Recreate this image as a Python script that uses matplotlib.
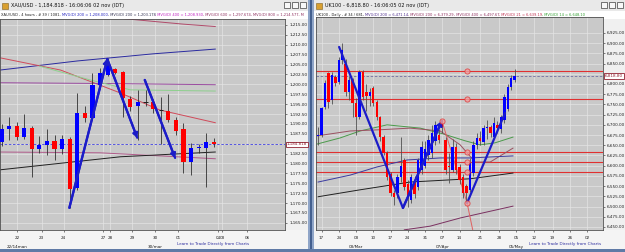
import matplotlib
matplotlib.use("Agg")
import matplotlib.pyplot as plt
from matplotlib.patches import Rectangle
from matplotlib.ticker import FuncFormatter, FixedLocator

W, H = 625, 252

# ---------------- XAU/USD, 4 hours ----------------
xau_open = [1185.5, 1188.7, 1189.5, 1186.7, 1189.0, 1183.7, 1184.7, 1185.7, 1183.7, 1186.2,
            1173.8, 1192.8, 1191.5, 1199.8, 1202.4, 1203.9, 1203.1, 1196.3, 1194.5, 1195.6,
            1195.6, 1193.6, 1193.3, 1191.0, 1188.7, 1180.4, 1184.0, 1183.9, 1185.5]
xau_high = [1190.0, 1191.8, 1190.5, 1192.5, 1189.4, 1187.0, 1188.7, 1187.2, 1187.2, 1186.6,
            1197.8, 1194.5, 1202.9, 1204.2, 1206.7, 1204.2, 1203.4, 1197.0, 1198.6, 1198.6,
            1196.3, 1196.8, 1197.5, 1191.8, 1190.3, 1185.2, 1185.0, 1187.7, 1186.5]
xau_low = [1184.5, 1185.9, 1185.9, 1186.2, 1176.6, 1182.7, 1182.2, 1180.9, 1182.5, 1168.8,
           1173.4, 1190.5, 1191.0, 1198.8, 1202.0, 1202.5, 1191.8, 1193.3, 1186.0, 1194.5,
           1192.8, 1185.0, 1190.5, 1187.2, 1177.6, 1177.1, 1182.7, 1174.1, 1184.2]
xau_close = [1188.7, 1189.5, 1186.7, 1189.0, 1183.7, 1184.7, 1185.7, 1183.7, 1186.2, 1173.6,
             1192.8, 1191.5, 1199.8, 1202.9, 1204.9, 1202.9, 1196.6, 1194.3, 1195.6, 1195.7,
             1193.8, 1193.5, 1191.0, 1188.2, 1180.4, 1183.9, 1184.2, 1185.5, 1184.8]
xau_last = 1184.818

# moving averages (bar index, price)
xau_ma_blue = ([-0.2, 10, 20, 28.2], [1203.6, 1205.9, 1207.7, 1208.9])
xau_ma_top = ([10, 15, 20, 24, 28.2], [1218.0, 1216.8, 1215.9, 1215.2, 1214.6])
xau_ma_red = ([-0.2, 7.8, 15.7, 20.9, 28.2], [1206.7, 1203.6, 1197.8, 1193.5, 1190.3])
xau_ma_purple = ([-0.2, 14, 28.2], [1200.4, 1200.2, 1199.9])
xau_ma_green = ([5, 11.7, 17.0, 28.2], [1204.6, 1201.1, 1198.6, 1198.3])
xau_ma_pink = ([-0.2, 13, 28.2], [1182.9, 1182.7, 1181.2])
xau_ma_black = ([-0.2, 15.7, 28.2], [1178.4, 1181.7, 1182.9])

# hand drawn trend lines
xau_trend_a = ([8.95, 13.95, 17.9], [1168.8, 1206.4, 1186.5])
xau_trend_b = ([18.9, 22.9], [1201.1, 1181.4])

xau_xticks = [2.1, 5.3, 8.2, 13.4, 14.3, 17.2, 20.3, 23.3, 28.6, 29.1, 32.4]
xau_xlabels = ["22", "23", "24", "27", "28", "29", "30", "01", "04", "03", "06"]
xau_months = [(2.1, "22/14man"), (20.3, "30/mar")]
xau_yrange = (1165.0, 1215.0, 2.5)

# ---------------- UK100, Daily ----------------
uk_open = [6673, 6676, 6743, 6827, 6761, 6817, 6805, 6859, 6850, 6780,
           6810, 6754, 6720, 6829, 6780, 6770, 6790, 6756, 6719, 6670,
           6631, 6580, 6533, 6533, 6572, 6614, 6555, 6516, 6560, 6548,
           6590, 6600, 6625, 6630, 6660, 6675, 6710, 6663, 6600, 6590,
           6646, 6597, 6572, 6550, 6540, 6582, 6650, 6668, 6658, 6692,
           6695, 6670, 6700, 6690, 6712, 6740, 6793, 6810]
uk_high = [6695, 6744, 6810, 6830, 6830, 6822, 6865, 6900, 6862, 6820,
           6815, 6765, 6835, 6835, 6800, 6790, 6795, 6760, 6722, 6675,
           6636, 6585, 6540, 6580, 6670, 6620, 6565, 6580, 6575, 6620,
           6660, 6660, 6675, 6700, 6710, 6690, 6712, 6670, 6631, 6665,
           6655, 6605, 6580, 6555, 6620, 6660, 6680, 6685, 6700, 6712,
           6700, 6720, 6710, 6725, 6775, 6800, 6822, 6836]
uk_low = [6651, 6670, 6740, 6742, 6750, 6795, 6800, 6850, 6770, 6760,
          6720, 6676, 6715, 6760, 6735, 6745, 6745, 6712, 6660, 6625,
          6565, 6525, 6505, 6520, 6560, 6540, 6500, 6508, 6520, 6540,
          6580, 6595, 6615, 6620, 6650, 6655, 6680, 6580, 6558, 6585,
          6580, 6555, 6520, 6509, 6535, 6575, 6640, 6650, 6650, 6665,
          6670, 6665, 6680, 6680, 6705, 6735, 6785, 6805]
uk_close = [6676, 6741, 6803, 6756, 6822, 6803, 6859, 6883, 6780, 6810,
            6754, 6719, 6829, 6768, 6770, 6780, 6754, 6719, 6670, 6631,
            6572, 6533, 6523, 6572, 6600, 6548, 6520, 6572, 6530, 6614,
            6646, 6640, 6663, 6680, 6700, 6663, 6695, 6590, 6598, 6646,
            6590, 6565, 6533, 6533, 6607, 6651, 6668, 6660, 6692, 6694,
            6680, 6705, 6692, 6719, 6768, 6793, 6815, 6820]
uk_last = 6818.80

uk_ma_green = ([-0.3, 6.4, 12.2, 20.0, 29.6, 36.2, 42.6, 47.0, 51.3, 56.5],
               [6653, 6668, 6685, 6700, 6692, 6678, 6661, 6651, 6656, 6670])
uk_ma_brown = ([-0.3, 9.3, 18.0, 26.7, 35.4, 41.2, 45.5, 49.9, 56.5],
               [6673, 6685, 6688, 6692, 6685, 6651, 6609, 6609, 6643])
uk_ma_navy = ([0, 9.3, 17.1, 25.8, 35.4, 44.1, 56.5],
              [6560, 6577, 6597, 6614, 6619, 6619, 6624])
uk_ma_black = ([0, 12.2, 26.7, 44.1, 56.5], [6524, 6541, 6560, 6568, 6582])
uk_ma_low = ([25, 32.5, 41.2, 56.5], [6443, 6452, 6472, 6501])
uk_swing = ([35.9, 43.2, 44.9], [6709.5, 6508.8, 6440])

uk_levels = [6832, 6763, 6634, 6609, 6585]
uk_level_mark = 43.2
uk_points = ([35.9, 43.2], [6709.5, 6508.8])

uk_trend_a = ([6.1, 24.6, 35.9], [6890.7, 6496.5, 6709.5])
uk_trend_b = ([43.2, 54.2], [6508.8, 6729.1])

uk_xticks = [1, 6, 11, 16, 21, 26, 31, 36, 41, 47, 52.5, 57.5, 62.5, 68, 73, 78]
uk_xlabels = ["17", "24", "03", "10", "17", "24", "31", "07", "14", "21", "28",
              "05", "12", "19", "26", "02"]
uk_months = [(11, "03/Mar"), (36, "07/Apr"), (57.5, "05/May")]
uk_yrange = (6450.0, 6925.0, 25.0)

BLUE = "#0000ff"
RED = "#ff0000"
TREND = "#1c1cc8"
FS = 3.0


def px_rect(x0, y0, x1, y1):
    return [x0 / W, 1 - y1 / H, (x1 - x0) / W, (y1 - y0) / H]


fig = plt.figure(figsize=(6.25, 2.52), dpi=100)
fig.patch.set_facecolor("#f0f0f0")

# window chrome, in pixel coordinates
bg = fig.add_axes([0, 0, 1, 1], zorder=0)
bg.set_xlim(0, W)
bg.set_ylim(H, 0)
bg.axis("off")
for x0, x1 in [(0, 308), (314, 625)]:
    bg.add_patch(Rectangle((x0, 0), x1 - x0, 11, fc="#e9e9e9", ec="none"))
    bg.add_patch(Rectangle((x0, 11), x1 - x0, 8, fc="#ffffff", ec="none"))
    bg.add_patch(Rectangle((x0, 230), x1 - x0, 19, fc="#f4f4f4", ec="none"))
    bg.add_patch(Rectangle((x0 + 2, 3), 6, 6, fc="#d9a030", ec="#806020", lw=0.4))
    for k in range(3):
        bx = x1 - 24 + k * 8
        bg.add_patch(Rectangle((bx, 2), 6, 6, fc="#f8f8f8", ec="#404040", lw=0.5))
bg.add_patch(Rectangle((308, 0), 6, H, fc="#8fa5c8", ec="none"))
bg.add_patch(Rectangle((310, 0), 2, H, fc="#44608f", ec="none"))
bg.add_patch(Rectangle((0, 249), W, 3, fc="#5f7aa6", ec="none"))

bg.text(11, 6, "XAU/USD - 1,184.818 - 16:06:06 02 nov (IDT)", fontsize=3.6,
        va="center", ha="left", color="#101010")
bg.text(325, 6, "UK100 - 6,818.80 - 16:06:05 02 nov (IDT)", fontsize=3.6,
        va="center", ha="left", color="#101010")


def chain(x, y, parts, fs=2.6):
    t = bg.text(x, y, parts[0][0], color=parts[0][1], fontsize=fs, va="center", ha="left")
    for s, c in parts[1:]:
        t = bg.annotate(s, xy=(1, 0.5), xycoords=t, va="center", ha="left",
                        color=c, fontsize=fs)


chain(1, 15, [("XAU/USD , 4 hours , # 39 / 1081, ", "#202020"),
              ("MVG(D) 200 = 1,208.000", "#2020c0"),
              (", MVG(D) 200 = 1,203.178", "#303050"),
              (", MVG(D) 400 = 1,208.930", "#c020c0"),
              (", MVG(D) 600 = 1,297.674, MVG(D) 800 = 1,214.577, M", "#903060")])
chain(316, 15, [("UK100 , Daily , # 34 / 681, ", "#202020"),
                ("MVG(D) 200 = 6,471.14", "#503090"),
                (", MVG(D) 200 = 6,379.29", "#903060"),
                (", MVG(D) 400 = 6,497.67", "#903060"),
                (", MVG(D) 21 = 6,639.19", "#c03050"),
                (", MVG(D) 14 = 6,648.10", "#30a030")])

bg.text(213, 244, "Learn to Trade Directly from Charts", fontsize=3.0,
        color="#3030a0", ha="center", va="center")
bg.text(565, 244, "Learn to Trade Directly from Charts", fontsize=3.0,
        color="#3030a0", ha="center", va="center")


def setup(ax, ylim, yrange, last, xlim, xticks, xlabels, months):
    ax.set_facecolor("#c9c9c9")
    ax.set_xlim(*xlim)
    ax.set_ylim(*ylim)
    ax.yaxis.tick_right()
    lo, hi, step = yrange
    levels = [lo + k * step for k in range(int(round((hi - lo) / step)) + 1)]
    for v in levels:
        ax.axhline(v, color="#e4e4e4", lw=0.5, zorder=0.5)
    # the price box hides the tick label it sits on
    shown = [v for v in levels if abs(v - last) > step * 0.45]
    ax.yaxis.set_major_locator(FixedLocator(shown))
    ax.yaxis.set_major_formatter(FuncFormatter(lambda v, p: f"{v:,.2f}"))
    ax.set_xticks(xticks)
    ax.set_xticklabels(xlabels)
    ax.tick_params(axis="both", labelsize=FS, length=1.5, width=0.4, pad=1.5,
                   colors="#202020")
    ax.tick_params(axis="x", pad=3)
    ax.grid(True, axis="x", color="#e4e4e4", lw=0.5)
    ax.set_axisbelow(True)
    for s in ax.spines.values():
        s.set_color("#505050")
        s.set_linewidth(0.6)
    for xm, lab in months:
        ax.text(xm, -0.07, lab, transform=ax.get_xaxis_transform(), fontsize=FS,
                ha="center", va="top", color="#202020", clip_on=False)
    ax.annotate(f"{last:,.3f}" if last < 2000 else f"{last:,.2f}", xy=(1, last),
                xycoords=ax.get_yaxis_transform(), xytext=(1.5, 0),
                textcoords="offset points", ha="left", va="center", fontsize=FS,
                color="#902030", zorder=10, annotation_clip=False,
                bbox=dict(boxstyle="square,pad=0.2", fc="white", ec="#902030", lw=0.6))


def candles(ax, o, h, l, c, width, wick, min_h):
    for i in range(len(o)):
        ax.vlines(i, l[i], h[i], color=wick, lw=0.6, zorder=3)
        if abs(c[i] - o[i]) < min_h:
            ax.hlines(o[i], i - width / 2, i + width / 2, color="#202020", lw=0.7, zorder=4)
            continue
        col = BLUE if c[i] > o[i] else RED
        ax.bar(i, c[i] - o[i], bottom=o[i], width=width, color=col, lw=0, zorder=4)


def trend(ax, xs, ys, arrows):
    ax.plot(xs, ys, color=TREND, lw=1.6, zorder=6, solid_capstyle="round")
    for k in arrows:
        ax.annotate("", xy=(xs[k], ys[k]), xytext=(xs[k - 1], ys[k - 1]),
                    arrowprops=dict(arrowstyle="-|>,head_length=0.5,head_width=0.3",
                                    color=TREND, lw=1.6, shrinkA=0, shrinkB=0,
                                    mutation_scale=5), zorder=7)


# ---------------- left chart ----------------
ax1 = fig.add_axes(px_rect(0, 19, 285, 230), zorder=1)
setup(ax1, (1163.2, 1216.5), xau_yrange, xau_last, (-0.2, 37.4),
      xau_xticks, xau_xlabels, xau_months)
for (xs, ys), col in [(xau_ma_top, "#b04a6a"), (xau_ma_blue, "#2a2aa0"),
                      (xau_ma_red, "#d04a5a"), (xau_ma_purple, "#9a4aa0"),
                      (xau_ma_green, "#8ed08e"), (xau_ma_pink, "#b05a8a"),
                      (xau_ma_black, "#202020")]:
    ax1.plot(xs, ys, color=col, lw=0.7, zorder=2)
ax1.axhline(xau_last, color="#4040e0", lw=0.6, ls=(0, (3, 2)), zorder=2)
candles(ax1, xau_open, xau_high, xau_low, xau_close, 0.55, "#303030", 0.2)
trend(ax1, *xau_trend_a, arrows=[1, 2])
trend(ax1, *xau_trend_b, arrows=[1])

# ---------------- right chart ----------------
ax2 = fig.add_axes(px_rect(316, 17, 603, 230), zorder=1)
setup(ax2, (6442.6, 6964.0), uk_yrange, uk_last, (-0.6, 82.6),
      uk_xticks, uk_xlabels, uk_months)
for lv in uk_levels:
    ax2.axhline(lv, color="#e03030", lw=0.8, zorder=2)
for (xs, ys), col in [(uk_ma_green, "#4a9a4a"), (uk_ma_brown, "#9a5060"),
                      (uk_ma_navy, "#3a3aa0"), (uk_ma_black, "#202020"),
                      (uk_ma_low, "#7a3060"), (uk_swing, "#e06060")]:
    ax2.plot(xs, ys, color=col, lw=0.7, zorder=2)
ax2.axhline(uk_last, color="#7070a0", lw=0.6, ls=(0, (3, 2)), zorder=2)
candles(ax2, uk_open, uk_high, uk_low, uk_close, 0.7, "#505050", 1.0)
trend(ax2, *uk_trend_a, arrows=[2])
trend(ax2, *uk_trend_b, arrows=[])
ax2.scatter([uk_level_mark] * len(uk_levels), uk_levels, s=14, facecolor="#f0a0a0",
            edgecolor="#e03030", lw=0.6, alpha=0.8, zorder=8)
ax2.scatter(*uk_points, s=14, facecolor="#f0a0a0", edgecolor="#e03030", lw=0.6,
            alpha=0.8, zorder=8)

fig.savefig("out.png", dpi=100)
